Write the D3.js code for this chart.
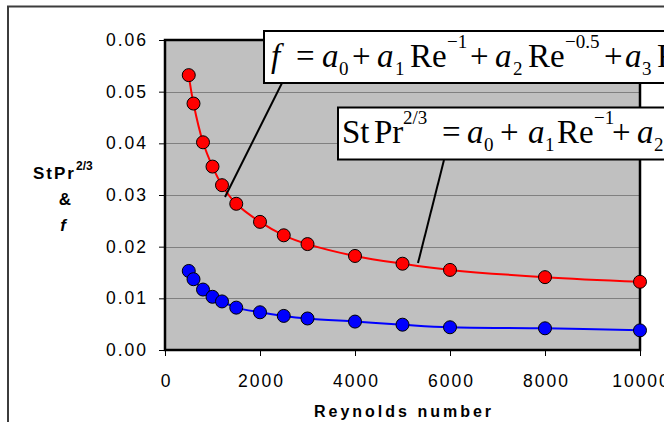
<!DOCTYPE html>
<html>
<head>
<meta charset="utf-8">
<script src="https://cdn.jsdelivr.net/npm/d3@7"></script>
<style>
  body { margin: 0; background: #fff; }
  svg { display: block; }
</style>
</head>
<body>
<div id="chart"></div>
<script>
// Reynolds numbers and the two correlated quantities
const reynolds = [500, 600, 800, 1000, 1200, 1500, 2000, 2500, 3000, 4000, 5000, 6000, 8000, 10000];
const fValues = [0.0532, 0.0477, 0.0402, 0.0355, 0.0319, 0.0283, 0.0248, 0.0222, 0.0205, 0.0182, 0.0167, 0.0155, 0.0141, 0.0132];
const stValues = [0.0153, 0.0137, 0.0117, 0.0103, 0.0094, 0.0082, 0.0073, 0.0066, 0.0061, 0.0055, 0.0049, 0.0044, 0.0042, 0.0038];
const yTicks = [0, 0.01, 0.02, 0.03, 0.04, 0.05, 0.06];
const xTicks = [0, 2000, 4000, 6000, 8000, 10000];

const width = 664, height = 422;
const plot = { left: 165, top: 40, right: 640, bottom: 350 };
const sansFont = "Arial, 'Liberation Sans', sans-serif";
const serifFont = "'Times New Roman', 'Liberation Serif', serif";

const svg = d3.select("#chart").append("svg")
    .attr("width", width)
    .attr("height", height)
    .style("font-family", sansFont);

const x = d3.scaleLinear().domain([0, 10000]).range([plot.left, plot.right]);
const y = d3.scaleLinear().domain([0, 0.06]).range([plot.bottom, plot.top]);

// chart frame (runs off the right and bottom of the picture)
svg.append("rect")
    .attr("x", 8).attr("y", 6.5)
    .attr("width", 720).attr("height", 520)
    .attr("fill", "none")
    .attr("stroke", "#3c3c3c")
    .attr("stroke-width", 2);

// plot area
svg.append("rect")
    .attr("x", plot.left).attr("y", plot.top)
    .attr("width", plot.right - plot.left)
    .attr("height", plot.bottom - plot.top)
    .attr("fill", "#c0c0c0");

svg.append("g").selectAll("line")
    .data(yTicks.filter(d => d > 0 && d < 0.06))
    .join("line")
    .attr("x1", plot.left).attr("x2", plot.right)
    .attr("y1", d => Math.round(y(d)) + 0.5)
    .attr("y2", d => Math.round(y(d)) + 0.5)
    .attr("stroke", "#808080")
    .attr("stroke-width", 1);

svg.append("rect")
    .attr("x", plot.left).attr("y", plot.top)
    .attr("width", plot.right - plot.left)
    .attr("height", plot.bottom - plot.top)
    .attr("fill", "none")
    .attr("stroke", "#000")
    .attr("stroke-width", 2.5);

// axes
const yAxis = svg.append("g")
    .attr("transform", `translate(${plot.left},0)`)
    .call(d3.axisLeft(y).tickValues(yTicks).tickFormat(d3.format(".2f")).tickSize(6).tickPadding(11))
    .attr("font-size", 17.5)
    .attr("font-family", sansFont);
yAxis.select(".domain").remove();
yAxis.selectAll(".tick line").attr("stroke", "#000");
yAxis.selectAll(".tick text").attr("fill", "#000").attr("letter-spacing", "2px");

const xAxis = svg.append("g")
    .attr("transform", `translate(0,${plot.bottom})`)
    .call(d3.axisBottom(x).tickValues(xTicks).tickFormat(d3.format("d")).tickSize(6).tickPadding(19))
    .attr("font-size", 17.5)
    .attr("font-family", sansFont);
xAxis.select(".domain").remove();
xAxis.selectAll(".tick line").attr("stroke", "#000");
xAxis.selectAll(".tick text").attr("fill", "#000").attr("letter-spacing", "2px").attr("dx", "1px");

// axis titles
svg.append("text")
    .attr("x", 404).attr("y", 417)
    .attr("text-anchor", "middle")
    .attr("font-size", 16).attr("font-weight", "bold")
    .attr("letter-spacing", "3px")
    .text("Reynolds number");

const yTitle = svg.append("text")
    .attr("font-size", 17).attr("font-weight", "bold")
    .attr("letter-spacing", "2px");
yTitle.append("tspan").attr("x", 33).attr("y", 179).text("StPr");
yTitle.append("tspan").attr("y", 170).attr("font-size", 12).attr("letter-spacing", "0px").text("2/3");
svg.append("text")
    .attr("x", 65).attr("y", 205)
    .attr("text-anchor", "middle")
    .attr("font-size", 17).attr("font-weight", "bold")
    .text("&");
svg.append("text")
    .attr("x", 63).attr("y", 231)
    .attr("text-anchor", "middle")
    .attr("font-size", 17).attr("font-weight", "bold").attr("font-style", "italic")
    .text("f");

// series
const series = [
    { values: fValues, color: "#ff0000" },
    { values: stValues, color: "#0000ff" }
];
const line = d3.line()
    .x(d => x(d[0]))
    .y(d => y(d[1]))
    .curve(d3.curveCatmullRom.alpha(0.5));

series.forEach(s => {
    const pts = reynolds.map((r, i) => [r, s.values[i]]);
    svg.append("path")
        .datum(pts)
        .attr("d", line)
        .attr("fill", "none")
        .attr("stroke", s.color)
        .attr("stroke-width", 2);
    svg.append("g").selectAll("circle")
        .data(pts)
        .join("circle")
        .attr("cx", d => x(d[0]))
        .attr("cy", d => y(d[1]))
        .attr("r", 6.5)
        .attr("fill", s.color)
        .attr("stroke", "#000")
        .attr("stroke-width", 1);
});

// callouts with the fitted correlations
svg.append("line").attr("x1", 282).attr("y1", 83).attr("x2", 225).attr("y2", 197)
    .attr("stroke", "#000").attr("stroke-width", 2);
svg.append("line").attr("x1", 444).attr("y1", 160).attr("x2", 418).attr("y2", 263)
    .attr("stroke", "#000").attr("stroke-width", 2);

svg.append("rect").attr("x", 264).attr("y", 31).attr("width", 500).attr("height", 52)
    .attr("fill", "#fff").attr("stroke", "#000").attr("stroke-width", 2);
svg.append("rect").attr("x", 338).attr("y", 107.5).attr("width", 400).attr("height", 52)
    .attr("fill", "#fff").attr("stroke", "#000").attr("stroke-width", 2);

function equation(pieces, baseline) {
    const t = svg.append("text")
        .attr("font-family", serifFont)
        .attr("font-size", 33)
        .attr("fill", "#000");
    pieces.forEach(([str, px, kind]) => {
        const sp = t.append("tspan").attr("x", px).text(str);
        if (kind === "i") sp.attr("y", baseline).attr("font-style", "italic");
        else if (kind === "sup") sp.attr("y", baseline - 19).attr("font-size", 19);
        else if (kind === "sub") sp.attr("y", baseline + 8).attr("font-size", 19);
        else sp.attr("y", baseline);
    });
}

equation([
    ["f", 271, "i"], ["=", 296, "r"], ["a", 322, "i"], ["0", 339, "sub"],
    ["+", 352, "r"], ["a", 377, "i"], ["1", 395, "sub"], ["Re", 410, "r"], ["\u22121", 447, "sup"],
    ["+", 470, "r"], ["a", 495, "i"], ["2", 513, "sub"], ["Re", 528, "r"], ["\u22120.5", 565, "sup"],
    ["+", 604, "r"], ["a", 625, "i"], ["3", 642, "sub"], ["Re", 657, "r"]
], 67);

equation([
    ["St", 342, "r"], ["Pr", 374, "r"], ["2/3", 403, "sup"], ["=", 442, "r"],
    ["a", 467, "i"], ["0", 484, "sub"], ["+", 500, "r"], ["a", 528, "i"], ["1", 545, "sub"],
    ["Re", 557, "r"], ["\u22121", 594, "sup"], ["+", 612, "r"], ["a", 637, "i"], ["2", 654, "sub"]
], 143);
</script>
</body>
</html>
